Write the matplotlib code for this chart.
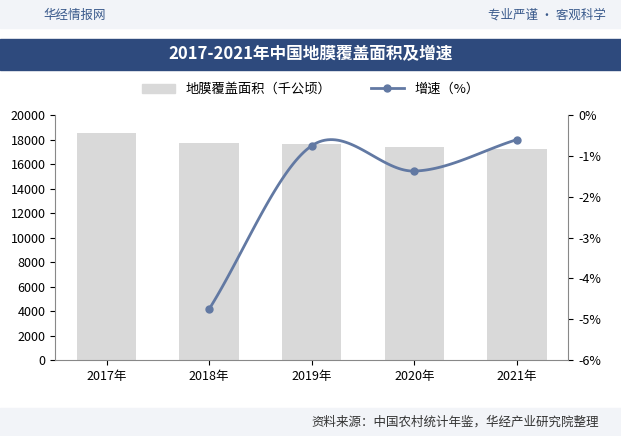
import matplotlib
matplotlib.use("Agg")
import matplotlib.pyplot as plt
from matplotlib.patches import Rectangle
from matplotlib.lines import Line2D
import numpy as np

plt.rcParams['font.family'] = ['Noto Sans CJK SC']

years = ["2017年", "2018年", "2019年", "2020年", "2021年"]
area = [18500, 17700, 17630, 17390, 17250]
growth_years = ["2018年", "2019年", "2020年", "2021年"]
growth = [-4.75, -0.75, -1.37, -0.6]

fig = plt.figure(figsize=(6.21, 4.36), dpi=100)
fig.patch.set_facecolor("white")
fig.patches.append(Rectangle((0, 0.935), 1, 0.065, transform=fig.transFigure, color="#f2f4f8", zorder=0))
fig.text(0.07, 0.965, "华经情报网", fontsize=9, color="#3a5a8c", va="center")
fig.text(0.975, 0.965, "专业严谨 • 客观科学", fontsize=9, color="#3a5a8c", va="center", ha="right")
fig.patches.append(Rectangle((0.0, 0.84), 1, 0.07, transform=fig.transFigure, color="#2e4a7d", zorder=0))
fig.text(0.5, 0.875, "2017-2021年中国地膜覆盖面积及增速", fontsize=12, color="white", weight="bold", va="center", ha="center")
fig.patches.append(Rectangle((0, 0), 1, 0.065, transform=fig.transFigure, color="#f2f4f8", zorder=0))
fig.text(0.965, 0.032, "资料来源：中国农村统计年鉴，华经产业研究院整理", fontsize=9, color="#333333", va="center", ha="right")

ax = fig.add_axes([0.089, 0.174, 0.826, 0.562])
x = np.arange(len(years))
ax.bar(x, area, width=0.58, color="#d9d9d9")
ax.set_ylim(0, 20000)
ax.set_yticks(range(0, 20001, 2000))
ax.set_xlim(-0.5, 4.5)
ax.set_xticks(x)
ax.set_xticklabels(years)
ax.tick_params(labelsize=9)
for s in ["top", "right"]:
    ax.spines[s].set_visible(False)
ax.spines["left"].set_color("#888888")
ax.spines["bottom"].set_color("#888888")

ax2 = ax.twinx()
gx = np.array([years.index(y) for y in growth_years], dtype=float)
gy = np.array(growth)
n = len(gx)
m = np.zeros(n)
for i in range(n):
    if i == 0:
        m[i] = (gy[1] - gy[0]) / (gx[1] - gx[0])
    elif i == n - 1:
        m[i] = (gy[-1] - gy[-2]) / (gx[-1] - gx[-2])
    else:
        m[i] = (gy[i + 1] - gy[i - 1]) / (gx[i + 1] - gx[i - 1])
xs, ys = [], []
for i in range(n - 1):
    t = np.linspace(0, 1, 40)
    h = gx[i + 1] - gx[i]
    h00 = 2*t**3 - 3*t**2 + 1; h10 = t**3 - 2*t**2 + t
    h01 = -2*t**3 + 3*t**2; h11 = t**3 - t**2
    xs.extend(gx[i] + t*h)
    ys.extend(h00*gy[i] + h10*h*m[i] + h01*gy[i+1] + h11*h*m[i+1])
color = "#6279a3"
ax2.plot(xs, ys, color=color, lw=2)
ax2.plot(gx, gy, "o", color=color, ms=5)
ax2.set_ylim(-6, 0)
ax2.set_yticks(range(-6, 1))
ax2.set_yticklabels([f"{v}%" for v in range(-6, 1)])
ax2.tick_params(labelsize=9)
for s in ["top", "left"]:
    ax2.spines[s].set_visible(False)
ax2.spines["right"].set_color("#888888")
ax2.spines["bottom"].set_visible(False)

handles = [Rectangle((0, 0), 1, 1, color="#d9d9d9"),
           Line2D([0], [0], color=color, lw=2, marker="o", ms=5)]
fig.legend(handles, ["地膜覆盖面积（千公顷）", "增速（%）"], loc="center", ncol=2,
           bbox_to_anchor=(0.5, 0.795), frameon=False, fontsize=9.5, handlelength=2.5, columnspacing=3)

fig.savefig("out.png", dpi=100)
